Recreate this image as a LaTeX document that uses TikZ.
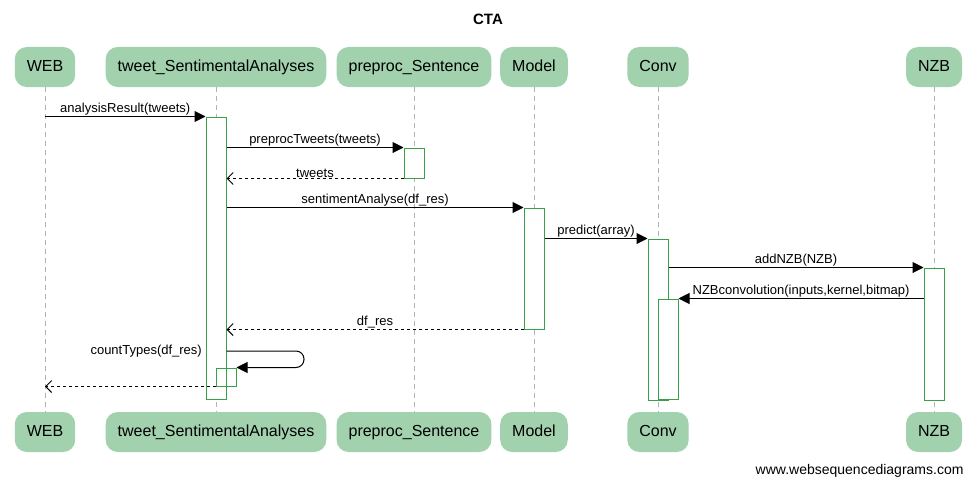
\documentclass[tikz,border=0pt]{standalone}
\usepackage{fontspec}
\setmainfont{Liberation Sans}
\usetikzlibrary{arrows.meta,positioning,calc}
\definecolor{partgreen}{RGB}{162,209,174}
\definecolor{actgreen}{RGB}{56,160,72}

\begin{document}
\begin{tikzpicture}[x=1pt,y=-1pt,
  part/.style={fill=partgreen, rounded corners=12pt, minimum height=40pt, inner xsep=12pt, text height=11.5pt, text depth=3.5pt, font=\fontsize{16}{18}\selectfont},
  lifeline/.style={gray!60, line width=0.8pt, dash pattern=on 5pt off 4pt},
  actbox/.style={draw=actgreen, fill=white, line width=1pt, minimum width=20pt, inner sep=0pt},
  msg/.style={line width=1pt, -{Triangle[length=11pt,width=11pt]}},
  ret/.style={line width=1pt, dashed, -{Straight Barb[length=6pt,width=12pt]}},
  lbl/.style={font=\fontsize{13}{15}\selectfont, inner sep=0.5pt}]
  \useasboundingbox (0,0) rectangle (976,487);
  % Title
  \node[font=\bfseries\fontsize{15}{17}\selectfont] (title) at (488,19) {CTA};
  % Participants
  \foreach \n/\x/\t in {web/45/WEB, tsa/216/tweet\_SentimentalAnalyses, pre/414/preproc\_Sentence, model/534/Model, conv/658/Conv, nzb/934/NZB} {
    \node[part] (\n top) at (\x,67) {\t};
    \node[part] (\n bot) at (\x,432) {\t};
    \draw[lifeline] (\n top) -- (\n bot);
  }
  % Activations
  \node[actbox, minimum height=282pt] (act1) at (216,258) {};
  \node[actbox, minimum height=30pt] (act2) at (414,163) {};
  \node[actbox, minimum height=121pt] (act3) at (534,268.5) {};
  \node[actbox, minimum height=161pt] (act4) at (658,319.5) {};
  \node[actbox, minimum height=132pt] (act5) at (934,334) {};
  \node[actbox, minimum height=100pt] (act6) at (668,349) {};
  \node[actbox, fill=none, minimum height=18pt] (act7) at (226,377) {};
  % Messages
  \draw[msg] (webtop |- act1.north) -- (act1.north west) node[lbl, midway, above] {analysisResult(tweets)};
  \draw[msg] (act1.east |- act2.north) -- (act2.north west) node[lbl, midway, above] {preprocTweets(tweets)};
  \draw[ret] (act2.south west) -- (act1.east |- act2.south) node[lbl, midway, above] {tweets};
  \draw[msg] (act1.east |- act3.north) -- (act3.north west) node[lbl, midway, above] {sentimentAnalyse(df\_res)};
  \draw[msg] (act3.east |- act4.north) -- (act4.north west) node[lbl, midway, above] {predict(array)};
  \draw[msg] (act4.east |- act5.north) -- (act5.north west) node[lbl, midway, above] {addNZB(NZB)};
  \draw[msg] (act5.west |- act6.north) -- (act6.north east) node[lbl, midway, above] {NZBconvolution(inputs,kernel,bitmap)};
  \draw[ret] (act3.south west) -- (act1.east |- act3.south) node[lbl, midway, above] {df\_res};
  % Self call
  \coordinate (selfout) at (304,351);
  \draw[msg, rounded corners=8pt] (act1.east |- selfout) -- (selfout) -- (selfout |- act7.north) -- (act7.north east);
  \node[lbl, left=3pt] (selflbl) at (act1.west |- selfout) {countTypes(df\_res)};
  \draw[ret] (act7.south west) -- (webtop |- act7.south);
  % Credit
  \node[anchor=east, font=\fontsize{14}{16}\selectfont] (credit) at (967,471) {www.websequencediagrams.com};
\end{tikzpicture}
\end{document}
